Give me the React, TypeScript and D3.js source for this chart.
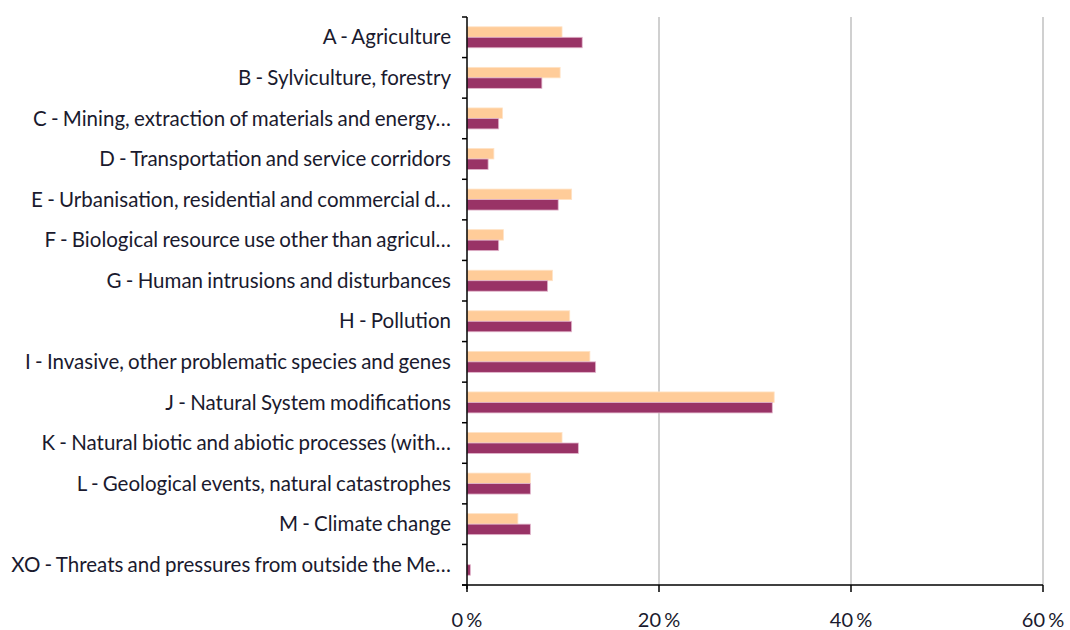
import React from "react";
import * as d3 from "d3";

const categories = [
  "A - Agriculture",
  "B - Sylviculture, forestry",
  "C - Mining, extraction of materials and energy…",
  "D - Transportation and service corridors",
  "E - Urbanisation, residential and commercial d…",
  "F - Biological resource use other than agricul…",
  "G - Human intrusions and disturbances",
  "H - Pollution",
  "I - Invasive, other problematic species and genes",
  "J - Natural System modifications",
  "K - Natural biotic and abiotic processes (with…",
  "L - Geological events, natural catastrophes",
  "M - Climate change",
  "XO - Threats and pressures from outside the Me…",
];
const seriesLight = [9.9, 9.7, 3.7, 2.8, 10.9, 3.8, 8.9, 10.7, 12.8, 32.0, 9.9, 6.6, 5.3, 0];
const seriesDark = [12.0, 7.8, 3.3, 2.2, 9.5, 3.3, 8.4, 10.9, 13.4, 31.8, 11.6, 6.6, 6.6, 0.35];
const xTicks = [0, 20, 40, 60];

const W = 1070;
const H = 630;
const left = 467;
const right = 1043;
const top = 17;
const bottom = 585;
const font = "Lato, 'Open Sans', sans-serif";

export default function App() {
  const x = d3.scaleLinear().domain([0, 60]).range([left, right]);
  const y = d3.scaleBand().domain(categories).range([top, bottom]).paddingInner(0).paddingOuter(0);
  const bw = y.bandwidth();
  const barH = 10.5;
  const groupOff = (bw - barH * 2) / 2;
  const boundaries = d3.range(categories.length + 1).map((i) => top + i * bw);

  return (
    <svg width={W} height={H} style={{ position: "absolute", left: 0, top: 0 }}>
      <rect x={0} y={0} width={W} height={H} fill="#fff" />
      {xTicks.filter((t) => t > 0).map((t) => (
        <line key={t} x1={x(t)} x2={x(t)} y1={top} y2={bottom} stroke="#c0c0c0" strokeWidth={1.5} />
      ))}
      {categories.map((c, i) => {
        const y0 = (y(c) as number) + groupOff;
        return (
          <g key={c}>
            <rect x={x(0)} y={y0} width={x(seriesLight[i]) - x(0)} height={barH} fill="#FFCC99" stroke="#ffe3c6" strokeWidth={0.8} />
            <rect x={x(0)} y={y0 + barH} width={x(seriesDark[i]) - x(0)} height={barH} fill="#993366" stroke="#e2b6cc" strokeWidth={0.8} />
            <text x={left - 16} y={(y(c) as number) + bw / 2} dy="0.35em" textAnchor="end" fontFamily={font} fontSize={20.5} wordSpacing={-1} fill="#1a1a2e">
              {c}
            </text>
          </g>
        );
      })}
      <line x1={left} x2={left} y1={top} y2={bottom + 4} stroke="#000" strokeWidth={1.5} />
      {boundaries.map((b, i) => (
        <line key={i} x1={left - 5} x2={left} y1={b} y2={b} stroke="#000" strokeWidth={1.5} />
      ))}
      <line x1={left - 5} x2={right} y1={bottom} y2={bottom} stroke="#000" strokeWidth={1.5} />
      {xTicks.map((t) => (
        <g key={t}>
          <line x1={x(t)} x2={x(t)} y1={bottom} y2={bottom + 7} stroke="#000" strokeWidth={1.5} />
          <text x={x(t)} y={627} textAnchor="middle" fontFamily={font} fontSize={20} wordSpacing={-2} fill="#1a1a2e">
            {t} %
          </text>
        </g>
      ))}
    </svg>
  );
}
